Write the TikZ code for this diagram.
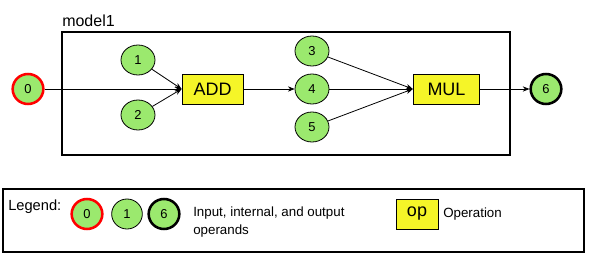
\documentclass[tikz,border=0pt]{standalone}
\usepackage{fontspec}
\setmainfont{Liberation Sans}
\usetikzlibrary{arrows.meta, positioning, shapes.geometric}
\definecolor{opgreen}{RGB}{155,233,110}
\definecolor{opyellow}{RGB}{245,245,40}
\tikzset{
  opnd/.style={draw, ellipse, fill=opgreen, line width=0.6pt, inner sep=0pt,
    minimum width=25.5pt, minimum height=22.5pt, font=\fontsize{9.7}{11}\selectfont},
  inopnd/.style={opnd, draw=red, line width=1.9pt, minimum width=23pt},
  outopnd/.style={opnd, line width=1.9pt, minimum width=23pt},
  opbox/.style={draw, fill=opyellow, line width=0.6pt, minimum height=22.5pt, font=\fontsize{13.5}{15}\selectfont},
  arr/.style={-{Stealth[length=5pt, width=4pt]}, line width=0.6pt},
  frame/.style={draw, line width=0.8pt},
}

\begin{document}
\begin{tikzpicture}[x=0.75pt, y=-0.75pt]
    \useasboundingbox (0,0) rectangle (589,253);
    % model box
    \draw[frame] (62,32) rectangle (510,155);
    \node[anchor=south west, inner sep=0pt, font=\fontsize{12}{14}\selectfont] (title) at (62,27) {model1};
    % operands and operations
    \node[inopnd] (n0) at (28,89) {0};
    \node[opnd] (n1) at (138,60) {1};
    \node[opnd] (n2) at (138,115) {2};
    \node[opbox, minimum width=45.75pt] (add) at (212.5,89) {ADD};
    \node[opnd] (n3) at (312,51) {3};
    \node[opnd] (n4) at (312,89) {4};
    \node[opnd] (n5) at (312,127) {5};
    \node[opbox, minimum width=50pt] (mul) at (446.5,89) {MUL};
    \node[outopnd] (n6) at (546,89) {6};
    \draw[arr] (n0) -- (add.west);
    \draw[arr] (n1) -- (add.west);
    \draw[arr] (n2) -- (add.west);
    \draw[arr] (add) -- (n4);
    \draw[arr] (n3) -- (mul.west);
    \draw[arr] (n4) -- (mul.west);
    \draw[arr] (n5) -- (mul.west);
    \draw[arr] (mul) -- (n6);
    % legend
    \draw[frame] (3,189) rectangle (584,252);
    \node[anchor=north west, inner sep=0pt, font=\fontsize{11}{13}\selectfont] (leg) at (8,200) {Legend:};
    \node[inopnd] (l0) at (87,214) {0};
    \node[opnd, minimum width=23pt] (l1) at (127,214) {1};
    \node[outopnd] (l6) at (164,214) {6};
    \node[anchor=north west, inner sep=0pt, align=left, font=\fontsize{10}{13}\selectfont] (ltext) at (193,207) {Input, internal, and output\\operands};
    \node[opbox, minimum width=31.5pt] (lop) at (417,214) {op};
    \node[anchor=west, inner sep=0pt, font=\fontsize{10}{13}\selectfont] (lopt) at (443,214) {Operation};
\end{tikzpicture}
\end{document}
